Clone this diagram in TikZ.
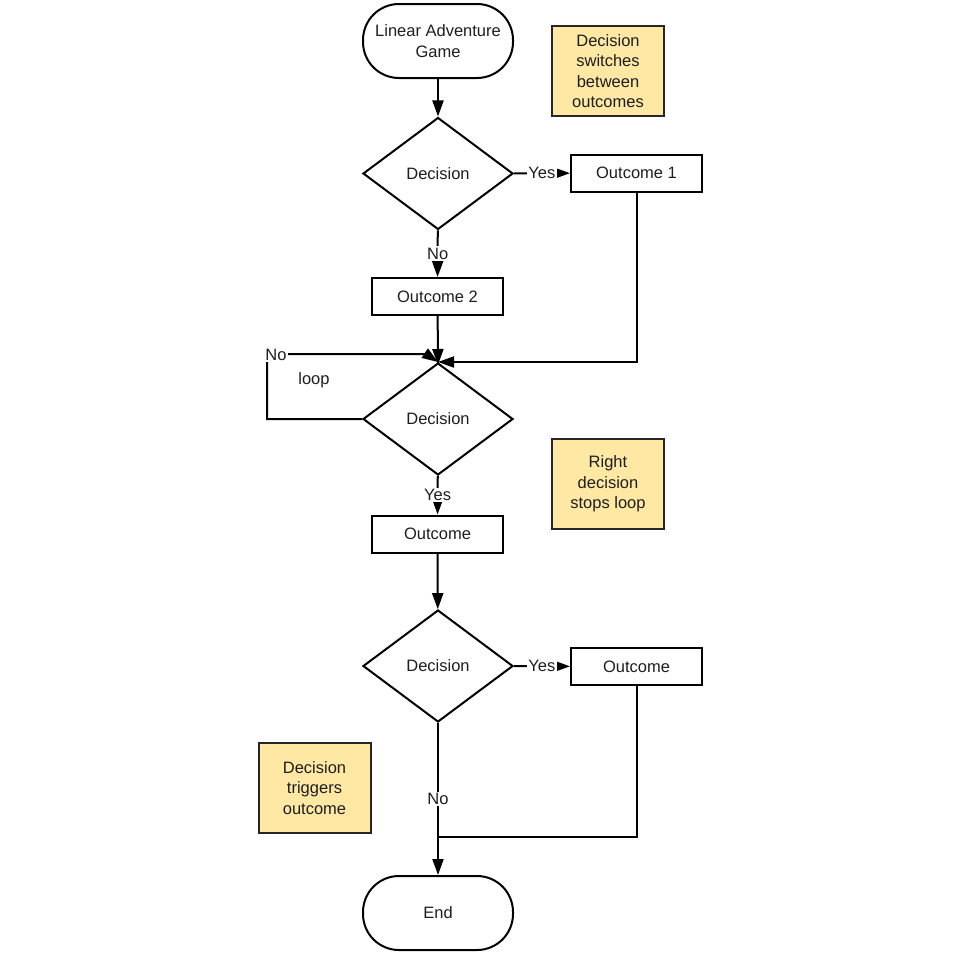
\documentclass[tikz,border=0pt]{standalone}
\usepackage{fontspec}
\setmainfont{Liberation Sans}
\usetikzlibrary{shapes.geometric,arrows.meta}
\definecolor{notefill}{RGB}{254,232,164}
\definecolor{ink}{RGB}{30,30,30}
\begin{document}
\begin{tikzpicture}[x=1pt,y=-1pt,
  txt/.style={font=\fontsize{16.5}{20.5}\selectfont, text=ink},
  base/.style={txt, line width=2pt, draw=black, align=center, inner sep=0pt},
  term/.style={base, rectangle, rounded corners=36pt, minimum width=150pt, minimum height=74pt, fill=white},
  dec/.style={base, diamond, minimum width=150pt, minimum height=112pt, fill=white},
  proc/.style={base, rectangle, minimum width=131pt, minimum height=37pt, fill=white},
  note/.style={base, rectangle, draw=black!85, fill=notefill, minimum width=112pt, minimum height=90pt},
  lbl/.style={txt, fill=white, inner sep=1.5pt},
  conn/.style={line width=2pt, draw=black},
  arr/.style={conn, -{Triangle[length=16pt,width=11pt]}}
]
\useasboundingbox (0,0) rectangle (960,953);
\fill[white] (0,0) rectangle (960,953);

\node[term] (start) at (438,41) {Linear Adventure\\Game};
\node[note] (n1) at (608,71) {Decision\\switches\\between\\outcomes};
\node[dec] (d1) at (438,173.5) {Decision};
\node[proc] (o1) at (636.5,173) {Outcome 1};
\node[proc] (o2) at (437.5,296.5) {Outcome 2};
\node[dec] (d2) at (438,419) {Decision};
\node[note] (n2) at (608,484) {Right\\decision\\stops loop};
\node[proc] (o3) at (437.5,534) {Outcome};
\node[dec] (d3) at (438,666) {Decision};
\node[proc] (o4) at (636.5,666.5) {Outcome};
\node[note] (n3) at (314.5,788) {Decision\\triggers\\outcome};
\node[term] (end) at (438,913) {End};
\node[txt] (looplbl) at (314,380) {loop};

\coordinate (lc) at (267,354);
\coordinate (loopbend) at (426,354);
\coordinate (join) at (438,837);

\draw[arr] (start) -- (d1);
\draw[arr] (d1) -- node[lbl]{Yes} (o1);
\draw[arr] (d1) -- node[lbl]{No} (o2);
\draw[arr] (o2) -- ([yshift=-3pt]d2.north);
\draw[arr] (o1.south) |- (d2.north);
\draw[arr] (d2.west) -| (lc) -- (loopbend) -- (d2.north);
\node[lbl] at ([xshift=9pt,yshift=-1pt]lc) {No};
\draw[arr] (d2) -- node[lbl]{Yes} (o3);
\draw[arr] (o3) -- (d3);
\draw[arr] (d3) -- node[lbl]{Yes} (o4);
\draw[arr] (d3) -- node[lbl]{No} (end);
\draw[conn] (o4.south) |- (join);
\end{tikzpicture}
\end{document}
